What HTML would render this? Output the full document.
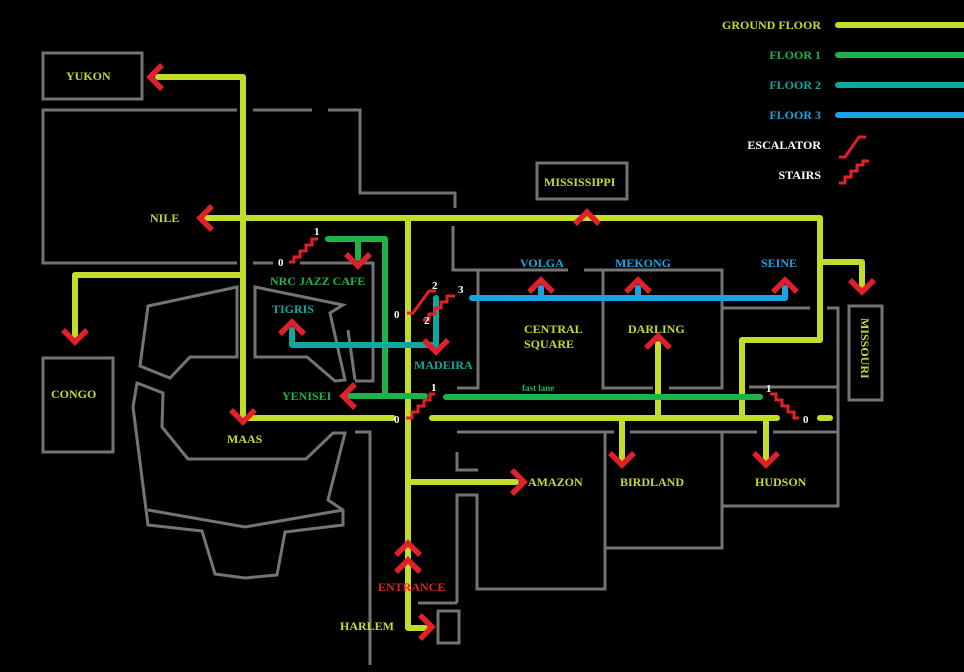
<!DOCTYPE html>
<html><head><meta charset="utf-8"><style>
html,body{margin:0;padding:0;background:#000;width:964px;height:672px;overflow:hidden}
text{font-family:"Liberation Serif",serif;font-weight:bold;font-size:12px}
</style></head><body>
<svg width="964" height="672" viewBox="0 0 964 672" xmlns="http://www.w3.org/2000/svg">
<rect width="964" height="672" fill="#000"/>
<g fill="none" stroke="#747474" stroke-width="3" stroke-linejoin="miter">
<rect x="43" y="53" width="99" height="46"/>
<rect x="537" y="163" width="90" height="36"/>
<rect x="43" y="358" width="70" height="94"/>
<rect x="849" y="306" width="33" height="94"/>
<rect x="438" y="611" width="21" height="32"/>
<path d="M237,110 H43 V263 H237"/>
<path d="M253,110 H312 M328,110 H360 V193 H455 V208"/>
<path d="M253,263 H273 M300,263 H373 V381 H355"/>
<path d="M453,226 V270 H568 M584,270 H722 V388 H669"/>
<path d="M478,270 V388 H457"/>
<path d="M603,270 V388 H653"/>
<path d="M722,308 H810 M827,308 H838 V506 H722 V432"/>
<path d="M749,387 H838 M773,432 H838"/>
<path d="M457,432 H614 M630,432 H757"/>
<path d="M605,432 V548 H722 V432"/>
<path d="M457,452 V470 H478"/>
<path d="M457,603 V495 H477 V589 H605 V548"/>
<path d="M418,603 H457"/>
<path d="M370,665 V432 H355"/>
<path d="M255,287 L343,305 L330,313 L345,380 L335,381 L307,357 L255,357 Z"/>
<path d="M348,330 L355,380"/>
<path d="M148,306 L237,287 L237,357 L190,357 L170,378 L140,366 Z"/>
<path d="M137,383 L163,393 L162,427 L188,459 L306,459 L333,433 L345,433 L328,500 L343,510 L343,525 L285,532 L277,575 L245,578 L215,574 L202,531 L148,525 L133,407 Z"/>
<path d="M148,510 L245,527 L343,510"/>
</g>
<g fill="none" stroke="#c3dc2c" stroke-width="6" stroke-linecap="round" stroke-linejoin="round">
<path d="M158,77 H243 V415"/>
<path d="M207,218 H820 V262 H862 V285"/>
<path d="M820,262 V340 H742 V418"/>
<path d="M243,275 H75 V335"/>
<path d="M408,218 V628 H425"/>
<path d="M243,418 H393 M432,418 H777"/>
<path d="M820,418 H830"/>
<path d="M408,482 H516"/>
<path d="M622,418 V458 M766,418 V458 M658,418 V344"/>
<path d="M838,25 H964"/>
</g>
<g fill="none" stroke="#1db34a" stroke-width="6" stroke-linecap="round" stroke-linejoin="round">
<path d="M328,239 H385 V396 H350"/>
<path d="M358,239 V258"/>
<path d="M385,396 H425 M446,397 H760"/>
<path d="M838,55 H964"/>
</g>
<g fill="none" stroke="#10a89e" stroke-width="6" stroke-linecap="round" stroke-linejoin="round">
<path d="M436,298 V345 H292 V330"/>
<path d="M838,85 H964"/>
</g>
<g fill="none" stroke="#1aa3e2" stroke-width="6" stroke-linecap="round" stroke-linejoin="round">
<path d="M472,298 H785 V288 M541,298 V288 M638,298 V288"/>
<path d="M838,115 H964"/>
</g>
<g fill="none" stroke="#e0202a" stroke-width="5.5" stroke-linecap="butt" stroke-linejoin="miter">
<path d="M162,65 L150,77 L162,89"/>
<path d="M212,206 L200,218 L212,230"/>
<path d="M575,224 L587,212 L599,224"/>
<path d="M850,280 L862,292 L874,280"/>
<path d="M63,330 L75,342 L87,330"/>
<path d="M231,410 L243,422 L255,410"/>
<path d="M346,254 L358,266 L370,254"/>
<path d="M355,384 L343,396 L355,408"/>
<path d="M280,334 L292,322 L304,334"/>
<path d="M424,340 L436,352 L448,340"/>
<path d="M529,292 L541,280 L553,292 M626,292 L638,280 L650,292 M773,292 L785,280 L797,292"/>
<path d="M646,348 L658,336 L670,348"/>
<path d="M610,453 L622,465 L634,453 M754,453 L766,465 L778,453"/>
<path d="M512,470 L524,482 L512,494"/>
<path d="M396,555 L408,543 L420,555 M396,572 L408,560 L420,572"/>
<path d="M420,615 L432,627 L420,639"/>
</g>
<g fill="none" stroke="#e0202a" stroke-width="3" stroke-linejoin="miter">
<path d="M289,262 h5 v-5 h6 v-6 h6 v-6 h6 v-6 h6"/>
<path d="M407,313 h6 l16,-22 h7"/>
<path d="M423,320 h6 v-6 h6 v-6 h6 v-6 h6 v-6 h8"/>
<path d="M406,418 h6 v-6 h6 v-6 h6 v-6 h6 v-6 h5"/>
<path d="M770,394 h6 v6 h6 v6 h6 v6 h6 v6 h5"/>
<path d="M839,157 h6 l14,-20 h7"/>
<path d="M839,183 h6 v-6 h6 v-6 h6 v-6 h6 v-4 h6"/>
</g>
<g fill="#c3dc2c">
<text x="66" y="80">YUKON</text>
<text x="150" y="222">NILE</text>
<text x="544" y="186">MISSISSIPPI</text>
<text x="51" y="398">CONGO</text>
<text x="227" y="443">MAAS</text>
<text x="524" y="333">CENTRAL</text>
<text x="524" y="348">SQUARE</text>
<text x="628" y="333">DARLING</text>
<text x="528" y="486">AMAZON</text>
<text x="620" y="486">BIRDLAND</text>
<text x="755" y="486">HUDSON</text>
<text x="340" y="630">HARLEM</text>
<text x="821" y="29" text-anchor="end">GROUND FLOOR</text>
<text transform="translate(861,318) rotate(90)">MISSOURI</text>
</g>
<g fill="#1db34a">
<text x="270" y="285">NRC JAZZ CAFE</text>
<text x="282" y="400">YENISEI</text>
<text x="522" y="391" style="font-size:9px">fast lane</text>
<text x="821" y="59" text-anchor="end">FLOOR 1</text>
</g>
<g fill="#10a89e">
<text x="272" y="313">TIGRIS</text>
<text x="414" y="369">MADEIRA</text>
<text x="821" y="89" text-anchor="end">FLOOR 2</text>
</g>
<g fill="#1aa3e2">
<text x="520" y="267">VOLGA</text>
<text x="615" y="267">MEKONG</text>
<text x="761" y="267">SEINE</text>
<text x="821" y="119" text-anchor="end">FLOOR 3</text>
</g>
<text x="378" y="591" fill="#e0202a">ENTRANCE</text>
<g fill="#fff">
<text x="821" y="149" text-anchor="end">ESCALATOR</text>
<text x="821" y="179" text-anchor="end">STAIRS</text>
<text x="278" y="266" style="font-size:11px">0</text>
<text x="314" y="235" style="font-size:11px">1</text>
<text x="394" y="318" style="font-size:11px">0</text>
<text x="432" y="289" style="font-size:11px">2</text>
<text x="424" y="324" style="font-size:11px">2</text>
<text x="458" y="293" style="font-size:11px">3</text>
<text x="394" y="423" style="font-size:11px">0</text>
<text x="431" y="391" style="font-size:11px">1</text>
<text x="766" y="392" style="font-size:11px">1</text>
<text x="803" y="423" style="font-size:11px">0</text>
</g>
</svg>
</body></html>
